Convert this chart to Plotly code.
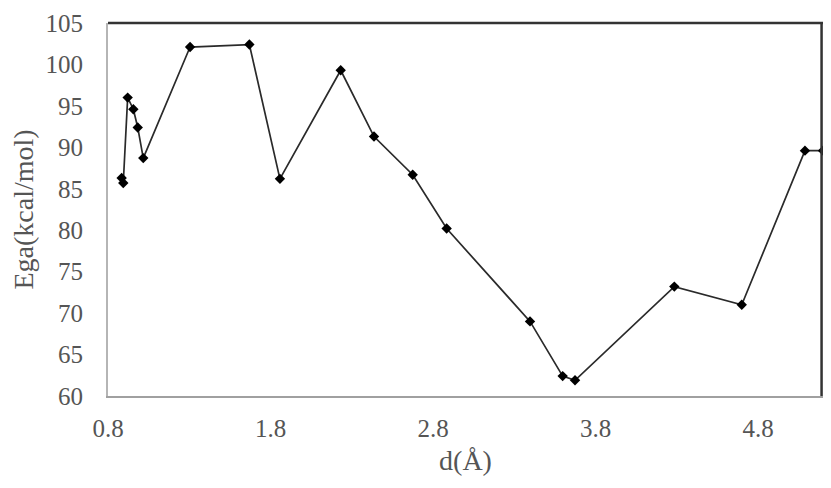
import plotly.graph_objects as go

# distance (angstrom) and energy values
d = [0.884, 0.894, 0.921, 0.956, 0.983, 1.017, 1.305, 1.670, 1.858, 2.232,
     2.437, 2.675, 2.884, 3.397, 3.598, 3.674, 4.285, 4.700, 5.089, 5.200]
ega = [86.3, 85.7, 96.0, 94.6, 92.4, 88.7, 102.1, 102.4, 86.2, 99.3,
       91.3, 86.7, 80.2, 69.0, 62.4, 61.9, 73.2, 71.0, 89.6, 89.6]

x_ticks = [0.8, 1.8, 2.8, 3.8, 4.8]
y_ticks = [60, 65, 70, 75, 80, 85, 90, 95, 100, 105]

font = "Liberation Serif, Times New Roman, serif"

fig = go.Figure()
fig.add_trace(go.Scatter(
    x=d, y=ega, mode="lines+markers",
    line=dict(color="#2a2a2a", width=1.7),
    marker=dict(symbol="diamond", size=8, color="black"),
    showlegend=False, cliponaxis=False,
))

# page body has an 8px margin, keep the figure small enough to avoid scrollbars
fig.update_layout(
    width=815, height=468,
    margin=dict(l=100, r=0, t=15, b=80),
    paper_bgcolor="white", plot_bgcolor="white",
    font=dict(family=font, color="#555555"),
    xaxis=dict(
        range=[0.8, 5.2], tickvals=x_ticks, ticktext=[str(v) for v in x_ticks],
        showgrid=False, zeroline=False, showline=True, linecolor="#a0a0a0", linewidth=2,
        tickfont=dict(size=25, color="#555555"), ticklabelstandoff=9, automargin=False,
        title=dict(text="d(Å)", font=dict(size=28, color="#555555"), standoff=11),
    ),
    yaxis=dict(
        range=[60, 105], tickvals=y_ticks,
        showgrid=False, zeroline=False, showline=True, linecolor="#b5b5b5", linewidth=2,
        tickfont=dict(size=25, color="#555555"), ticklabelstandoff=18, automargin=False,
        title=dict(text="Ega(kcal/mol)", font=dict(size=28, color="#555555"), standoff=5),
    ),
    shapes=[
        dict(type="line", xref="paper", yref="paper", x0=0, x1=1, y0=1, y1=1,
             line=dict(color="#333333", width=2.5)),
        dict(type="line", xref="paper", yref="paper", x0=0.998, x1=0.998, y0=0, y1=1,
             line=dict(color="#333333", width=2.5)),
    ],
)

fig.write_html("out.html")
